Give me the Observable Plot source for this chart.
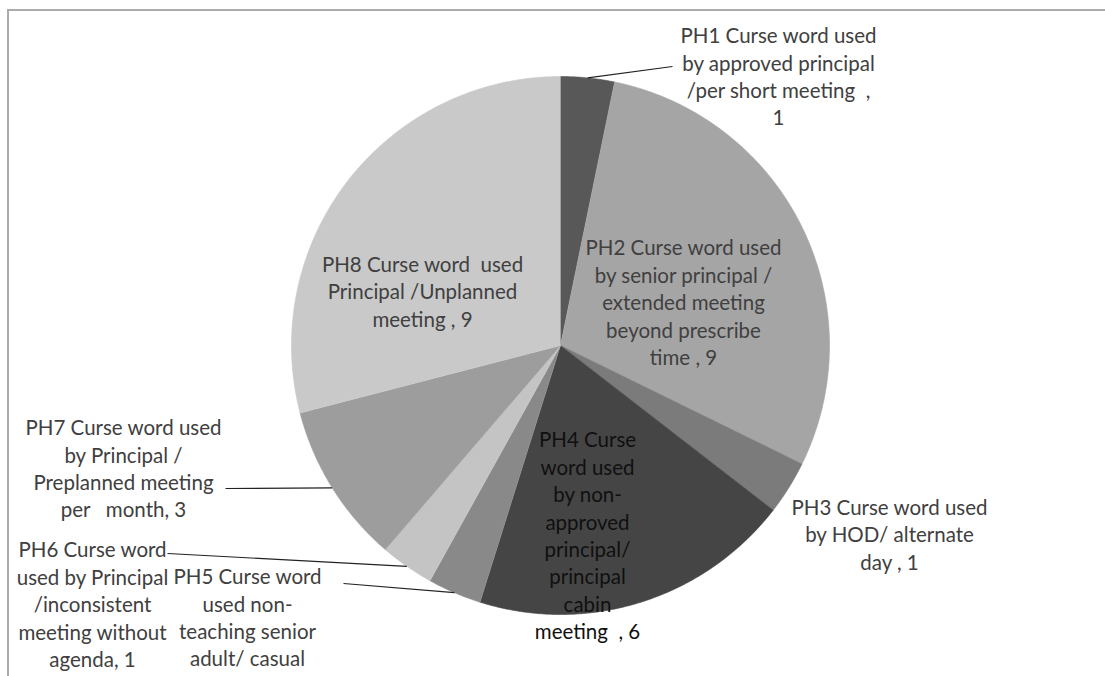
<!DOCTYPE html>
<html>
<head>
<meta charset="utf-8">
<script src="https://cdn.jsdelivr.net/npm/d3@7"></script>
<script src="https://cdn.jsdelivr.net/npm/@observablehq/plot@0.6"></script>
<style>
  html, body { margin: 0; padding: 0; background: #fff; overflow: hidden; }
  #wrap { position: relative; width: 1105px; height: 676px; overflow: hidden; }
  #frame { position: absolute; left: 7px; top: 9px; width: 1300px; height: 900px;
           border-top: 2px solid #ababab; border-left: 2px solid #ababab; pointer-events: none; }
</style>
</head>
<body>
<div id="wrap"><div id="chart"></div><div id="frame"></div></div>
<script>
// ---- data ----
const categories = ["PH1", "PH2", "PH3", "PH4", "PH5", "PH6", "PH7", "PH8"];
const values = [1, 9, 1, 6, 1, 1, 3, 9];
const labelTexts = [
  "PH1 Curse word used\nby approved principal\n/per short meeting  ,\n1",
  "PH2 Curse word used\nby senior principal /\nextended meeting\nbeyond prescribe\ntime , 9",
  "PH3 Curse word used\nby HOD/ alternate\nday , 1",
  "PH4 Curse\nword used\nby non-\napproved\nprincipal/\nprincipal\ncabin\nmeeting  , 6",
  "PH5 Curse word\nused non-\nteaching senior\nadult/ casual",
  "PH6 Curse word\nused by Principal\n/inconsistent\nmeeting without\nagenda, 1",
  "PH7 Curse word used\nby Principal /\nPreplanned meeting\nper   month, 3",
  "PH8 Curse word  used\nPrincipal /Unplanned\nmeeting , 9"
];

// ---- styles & layout ----
const shades = ["#585858", "#a5a5a5", "#7b7b7b", "#454545", "#898989", "#c4c4c4", "#9d9d9d", "#c9c9c9"];
const textShades = ["#404040", "#404040", "#404040", "#101010", "#404040", "#404040", "#404040", "#404040"];
const W = 1105, H = 676, cx = 560, cy = 345, R = 269;
// label block centers (pixels) and leader-line end points (none = no leader)
const labelPos = [
  {x: 778, y: 75,  lx: 672, ly: 66},
  {x: 683, y: 301},
  {x: 889, y: 533},
  {x: 587, y: 534},
  {x: 247, y: 616, lx: 343, ly: 583},
  {x: 92,  y: 603, lx: 167, ly: 553},
  {x: 123, y: 467, lx: 225, ly: 488},
  {x: 422, y: 290}
];

// ---- geometry from data ----
const total = d3.sum(values);
const pieRows = [];
const leaders = [];
const labelRows = [];
let acc = 0;
categories.forEach((cat, i) => {
  const a0 = acc / total * 2 * Math.PI;
  acc += values[i];
  const a1 = acc / total * 2 * Math.PI;
  const pt = a => ({x: cx + R * Math.sin(a), y: cy - R * Math.cos(a)});
  pieRows.push({key: cat, shade: shades[i], x: cx, y: cy});
  const n = Math.max(2, Math.ceil((a1 - a0) / (Math.PI / 360)));
  for (let k = 0; k <= n; k++) {
    const p = pt(a0 + (a1 - a0) * k / n);
    pieRows.push({key: cat, shade: shades[i], x: p.x, y: p.y});
  }
  const mid = pt((a0 + a1) / 2);
  const lp = labelPos[i];
  if (lp.lx != null) leaders.push({x1: mid.x, y1: mid.y, x2: lp.lx, y2: lp.ly});
  labelRows.push({x: lp.x, y: lp.y, text: labelTexts[i], ink: textShades[i]});
});

const chart = Plot.plot({
  width: W,
  height: H,
  margin: 0,
  x: {domain: [0, W], range: [0, W], axis: null},
  y: {domain: [0, H], range: [0, H], axis: null},
  color: {type: "identity"},
  style: {fontFamily: "Lato, 'Open Sans', sans-serif", background: "#fff"},
  marks: [
    Plot.line(pieRows, {x: "x", y: "y", z: "key", fill: "shade", stroke: "shade", strokeWidth: 0.6, curve: "linear"}),
    Plot.link(leaders, {x1: "x1", y1: "y1", x2: "x2", y2: "y2", stroke: "#222", strokeWidth: 1.2}),
    Plot.text(labelRows, {x: "x", y: "y", text: "text", fill: "ink", fontSize: 20.5, lineHeight: 1.337})
  ]
});
document.getElementById("chart").appendChild(chart);
</script>
</body>
</html>
